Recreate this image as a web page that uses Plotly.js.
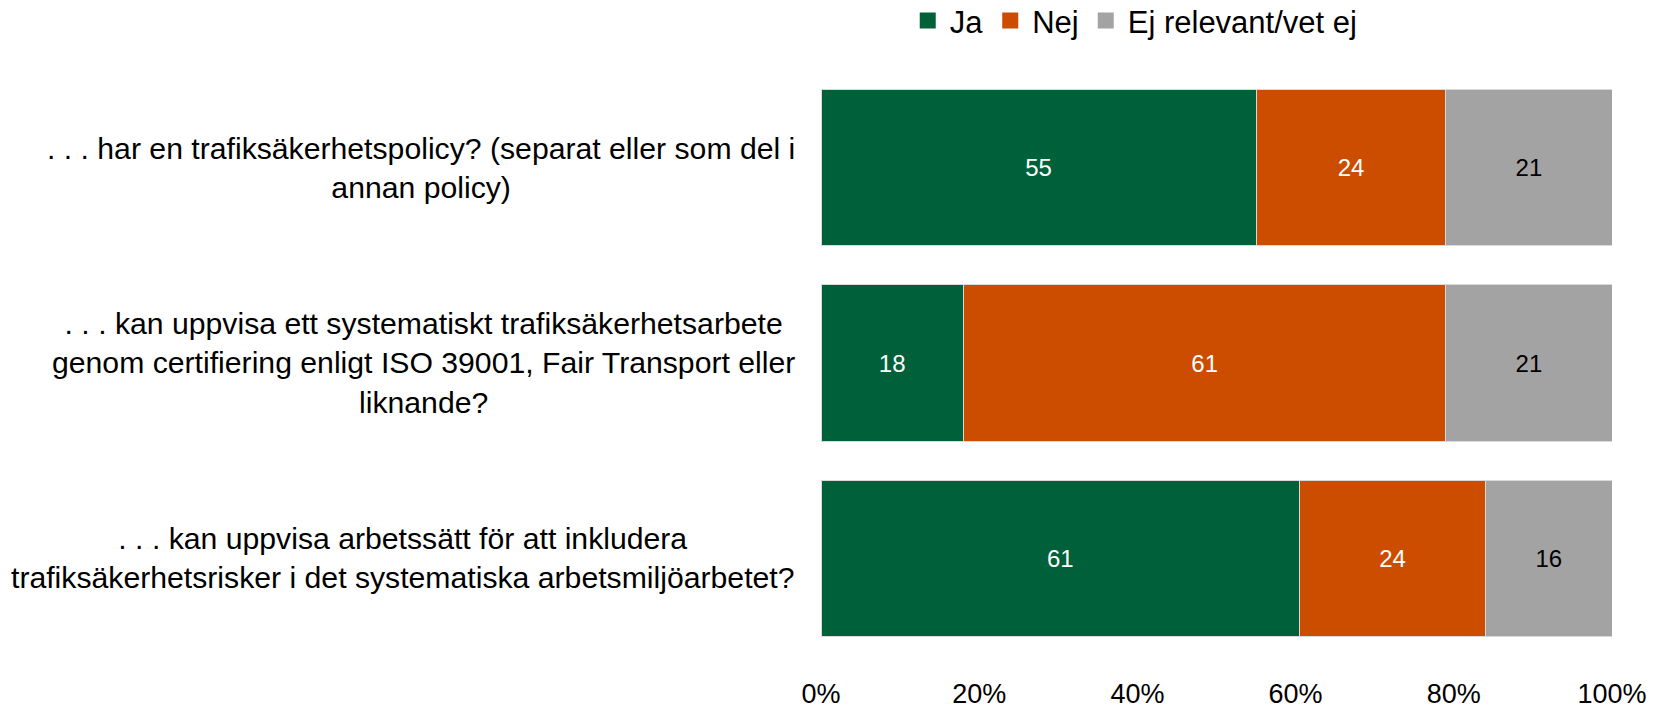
<!DOCTYPE html>
<html>
<head>
<meta charset="utf-8">
<script src="https://cdn.plot.ly/plotly-3.0.1.min.js"></script>
<style>html,body{margin:0;padding:0;background:#fff;}#chart{width:1655px;height:706px;}</style>
</head>
<body>
<div id="chart"></div>
<script>
const categories = [
  ". . . har en trafiksäkerhetspolicy? (separat eller som del i<br>annan policy)",
  ". . . kan uppvisa ett systematiskt trafiksäkerhetsarbete<br>genom certifiering enligt ISO 39001, Fair Transport eller<br>liknande?",
  ". . . kan uppvisa arbetssätt för att inkludera<br>trafiksäkerhetsrisker i det systematiska arbetsmiljöarbetet?"
];
const seriesNames = ["Ja", "Nej", "Ej relevant/vet ej"];
// bar lengths (percent)
const ja = [55, 18, 60.5];
const nej = [24, 61, 23.5];
const ejRelevant = [21, 21, 16];
// labels printed in the bars
const jaLabels = ["55", "18", "61"];
const nejLabels = ["24", "61", "24"];
const ejRelevantLabels = ["21", "21", "16"];
const tickValues = [0, 20, 40, 60, 80, 100];
const tickLabels = ["0%", "20%", "40%", "60%", "80%", "100%"];

const colors = ["#006039", "#CC4C00", "#A3A3A3"];
const textColors = ["#FFFFFF", "#FFFFFF", "#000000"];
const values = [ja, nej, ejRelevant];
const labels = [jaLabels, nejLabels, ejRelevantLabels];
const FONT = "Liberation Sans, Arial, sans-serif";

const traces = values.map((vals, i) => ({
  type: "bar",
  orientation: "h",
  name: seriesNames[i],
  y: categories,
  x: vals,
  text: labels[i],
  texttemplate: "%{text}",
  textposition: "inside",
  insidetextanchor: "middle",
  textangle: 0,
  constraintext: "none",
  textfont: {family: FONT, size: 24, color: textColors[i]},
  marker: {color: colors[i], line: {color: "#D9D9D9", width: 1}},
  showlegend: false,
  hoverinfo: "skip"
}));

// legend-only entries with larger square swatches
seriesNames.forEach((n, i) => {
  traces.push({
    type: "scatter",
    mode: "markers",
    name: n,
    x: [null],
    y: [null],
    marker: {symbol: "square", size: 16, color: colors[i]},
    showlegend: true,
    hoverinfo: "skip"
  });
});

// centred, multi-line category labels
const annotations = categories.map((c, i) => ({
  text: c,
  xref: "paper",
  x: 0,
  xanchor: "right",
  xshift: -24,
  yref: "y",
  y: i,
  yanchor: "middle",
  showarrow: false,
  align: "center",
  font: {family: FONT, size: 30.2, color: "#000000"}
}));

const layout = {
  width: 1655,
  height: 706,
  barmode: "stack",
  bargap: 0.2,
  paper_bgcolor: "#FFFFFF",
  plot_bgcolor: "#FFFFFF",
  font: {family: FONT, size: 28, color: "#000000"},
  margin: {l: 821, r: 43, t: 70, b: 50, autoexpand: false},
  showlegend: true,
  legend: {
    orientation: "h",
    x: 0.396, xanchor: "center",
    y: 1.084, yanchor: "middle",
    font: {family: FONT, size: 31, color: "#000000"},
    itemwidth: 34,
    traceorder: "normal"
  },
  annotations: annotations,
  xaxis: {
    range: [0, 100],
    tickvals: tickValues,
    ticktext: tickLabels,
    showgrid: false,
    zeroline: false,
    showline: false,
    ticks: "",
    ticklabelstandoff: 19,
    tickfont: {family: FONT, size: 27, color: "#000000"},
    fixedrange: true
  },
  yaxis: {
    type: "category",
    autorange: "reversed",
    showgrid: false,
    zeroline: false,
    showline: false,
    showticklabels: false,
    ticks: "",
    fixedrange: true
  }
};

Plotly.newPlot("chart", traces, layout, {displayModeBar: false, staticPlot: true});
</script>
</body>
</html>
